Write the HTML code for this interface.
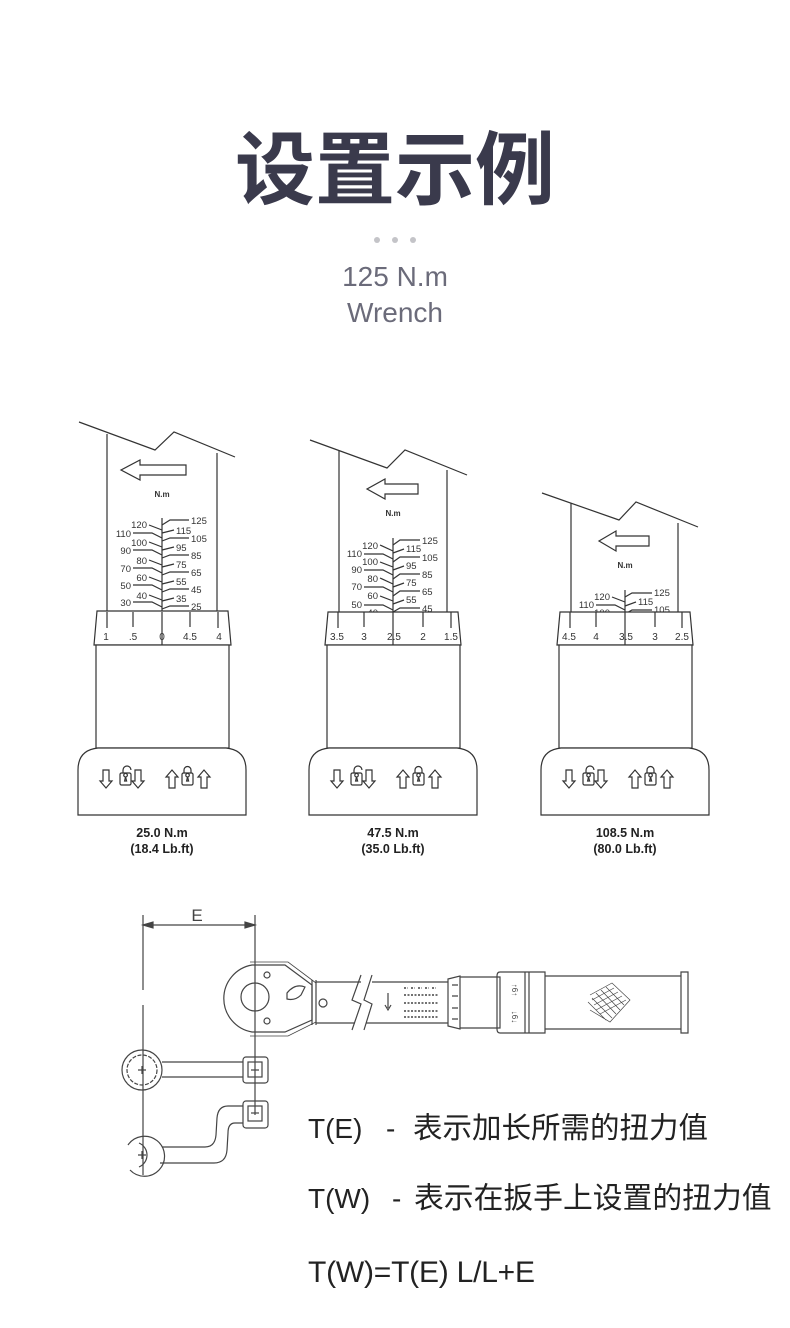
<!DOCTYPE html>
<html><head><meta charset="utf-8"><style>
html,body{margin:0;padding:0;background:#fff;width:790px;height:1328px;overflow:hidden}
svg{display:block}
</style></head><body>
<svg width="790" height="1328" viewBox="0 0 790 1328" xmlns="http://www.w3.org/2000/svg">
<defs>
<g id="iconsL" fill="none" stroke="#333" stroke-width="1.2">
<path d="M-3,-8 v11 h-3 l6,7 l6,-7 h-3 v-11 z" transform="translate(-44,0)"/>
<rect x="-30" y="-5" width="11" height="12" rx="1.5"/><path d="M-27,-5 v-3 a4,4 0 0 1 8,0"/><path d="M-24.5,-1 a1.8,1.8 0 1 1 0.1,0 l1,4 h-2 z"/>
<path d="M-3,-8 v11 h-3 l6,7 l6,-7 h-3 v-11 z" transform="translate(-12,0)"/>
<path d="M-3,10 v-11 h-3 l6,-7 l6,7 h-3 v11 z" transform="translate(22,0)"/>
<rect x="32" y="-5" width="11" height="12" rx="1.5"/><path d="M34,-5 v-3 a3.5,3.5 0 0 1 7,0 v3"/><path d="M37.5,-1 a1.8,1.8 0 1 1 0.1,0 l1,4 h-2 z"/>
<path d="M-3,10 v-11 h-3 l6,-7 l6,7 h-3 v11 z" transform="translate(54,0)"/>
</g>
</defs>

<text x="395" y="198" text-anchor="middle" font-family="'Liberation Sans','Noto Sans CJK SC',sans-serif" font-size="80" font-weight="bold" fill="#3a3a4c">设置示例</text>
<circle cx="377" cy="240" r="3" fill="#c4c4c8"/><circle cx="395" cy="240" r="3" fill="#c4c4c8"/><circle cx="413" cy="240" r="3" fill="#c4c4c8"/>
<text x="395" y="286" text-anchor="middle" font-family="'Liberation Sans',sans-serif" font-size="28" fill="#6b6b7a">125 N.m</text>
<text x="395" y="322" text-anchor="middle" font-family="'Liberation Sans',sans-serif" font-size="28" fill="#6b6b7a">Wrench</text>

<g fill="none" stroke="#333" stroke-width="1.2" font-family="'Liberation Sans',sans-serif">
<!-- Gauge 1 -->
<path d="M79,422 L155,450 L174,432 L235,457"/>
<path d="M107,434 V612 M217,453 V612"/>
<path d="M186,465 H140 V460 L121,470 L140,480 V475 H186 Z"/>
<text x="162" y="497" font-size="8" font-weight="bold" fill="#333" stroke="none" text-anchor="middle">N.m</text>
<path d="M162,518 V645"/>
<g fill="#333" stroke="none" font-size="9.5">
<text x="147" y="528" text-anchor="end">120</text><text x="131" y="537" text-anchor="end">110</text><text x="147" y="546" text-anchor="end">100</text><text x="131" y="554" text-anchor="end">90</text><text x="147" y="564" text-anchor="end">80</text><text x="131" y="572" text-anchor="end">70</text><text x="147" y="581" text-anchor="end">60</text><text x="131" y="589" text-anchor="end">50</text><text x="147" y="599" text-anchor="end">40</text><text x="131" y="606" text-anchor="end">30</text>
<text x="191" y="524">125</text><text x="176" y="534">115</text><text x="191" y="542">105</text><text x="176" y="551">95</text><text x="191" y="559">85</text><text x="176" y="568">75</text><text x="191" y="576">65</text><text x="176" y="585">55</text><text x="191" y="593">45</text><text x="176" y="602">35</text><text x="191" y="610">25</text>
</g>
<path d="M149,525 L162,530 M133,533 H152 L162,538 M149,542 L162,547 M133,550 H152 L162,555 M149,560 L162,565 M133,568 H152 L162,573 M149,577 L162,582 M133,585 H152 L162,590 M149,595 L162,600 M133,602 H152 L162,607"/>
<path d="M162,525 L170,520 H189 M162,533 L174,530 M162,541 L170,538 H189 M162,550 L174,547 M162,558 L170,555 H189 M162,567 L174,564 M162,575 L170,572 H189 M162,584 L174,581 M162,592 L170,589 H189 M162,601 L174,598 M162,609 L170,606 H189"/>
<path d="M97,611 H228 L231,645 H94 Z" fill="#fff"/>
<path d="M107,612 V628 M133,612 V627 M162,612 V645 M190,612 V627 M218,612 V628"/>
<g fill="#333" stroke="none" font-size="10" text-anchor="middle"><text x="106" y="640">1</text><text x="133" y="640">.5</text><text x="162" y="640">0</text><text x="190" y="640">4.5</text><text x="219" y="640">4</text></g>
<rect x="96" y="645" width="133" height="103" fill="#fff"/>
<path d="M78,815 V770 Q78,750 98,748 H226 Q246,750 246,770 V815 Z" fill="#fff"/>
<use href="#iconsL" x="150" y="778"/>
<text x="162" y="837" font-size="12.5" font-weight="bold" fill="#222" stroke="none" text-anchor="middle">25.0 N.m</text>
<text x="162" y="853" font-size="12.5" font-weight="bold" fill="#222" stroke="none" text-anchor="middle">(18.4 Lb.ft)</text>

<!-- Gauge 2 -->
<path d="M310,440 L387,468 L405,450 L467,475"/>
<path d="M339,451 V612 M447,470 V612"/>
<path d="M418,484 H385 V479 L367,489 L385,499 V494 H418 Z"/>
<text x="393" y="516" font-size="8" font-weight="bold" fill="#333" stroke="none" text-anchor="middle">N.m</text>
<path d="M393,538 V645"/>
<g fill="#333" stroke="none" font-size="9.5">
<text x="378" y="549" text-anchor="end">120</text><text x="362" y="557" text-anchor="end">110</text><text x="378" y="565" text-anchor="end">100</text><text x="362" y="573" text-anchor="end">90</text><text x="378" y="582" text-anchor="end">80</text><text x="362" y="590" text-anchor="end">70</text><text x="378" y="599" text-anchor="end">60</text><text x="362" y="608" text-anchor="end">50</text><text x="378" y="616" text-anchor="end">40</text>
<text x="422" y="544">125</text><text x="406" y="552">115</text><text x="422" y="561">105</text><text x="406" y="569">95</text><text x="422" y="578">85</text><text x="406" y="586">75</text><text x="422" y="595">65</text><text x="406" y="603">55</text><text x="422" y="612">45</text>
</g>
<path d="M380,545 L393,551 M364,554 H383 L393,559 M380,562 L393,567 M364,570 H383 L393,575 M380,578 L393,584 M364,587 H383 L393,592 M380,596 L393,601 M364,605 H383 L393,610"/>
<path d="M393,545 L400,540 H420 M393,553 L404,549 M393,562 L400,557 H420 M393,570 L404,566 M393,579 L400,574 H420 M393,587 L404,583 M393,596 L400,591 H420 M393,604 L404,600 M393,612 L400,608 H420"/>
<path d="M328,612 H458 L461,645 H325 Z" fill="#fff"/>
<path d="M338,612 V628 M364,612 V627 M393,612 V645 M423,612 V627 M451,612 V628"/>
<g fill="#333" stroke="none" font-size="10" text-anchor="middle"><text x="337" y="640">3.5</text><text x="364" y="640">3</text><text x="394" y="640">2.5</text><text x="423" y="640">2</text><text x="451" y="640">1.5</text></g>
<rect x="327" y="645" width="133" height="103" fill="#fff"/>
<path d="M309,815 V770 Q309,750 329,748 H457 Q477,750 477,770 V815 Z" fill="#fff"/>
<use href="#iconsL" x="381" y="778"/>
<text x="393" y="837" font-size="12.5" font-weight="bold" fill="#222" stroke="none" text-anchor="middle">47.5 N.m</text>
<text x="393" y="853" font-size="12.5" font-weight="bold" fill="#222" stroke="none" text-anchor="middle">(35.0 Lb.ft)</text>

<!-- Gauge 3 -->
<path d="M542,493 L619,520 L636,502 L698,527"/>
<path d="M571,503 V612 M678,523 V612"/>
<path d="M649,536 H616 V531 L599,541 L616,551 V546 H649 Z"/>
<text x="625" y="568" font-size="8" font-weight="bold" fill="#333" stroke="none" text-anchor="middle">N.m</text>
<path d="M625,590 V645"/>
<g fill="#333" stroke="none" font-size="9.5">
<text x="610" y="600" text-anchor="end">120</text><text x="594" y="608" text-anchor="end">110</text><text x="610" y="616" text-anchor="end">100</text>
<text x="654" y="596">125</text><text x="638" y="605">115</text><text x="654" y="613">105</text>
</g>
<path d="M612,597 L625,602 M596,605 H615 L625,610"/>
<path d="M625,597 L632,593 H652 M625,606 L636,602 M625,614 L632,610 H652"/>
<path d="M560,612 H690 L693,645 H557 Z" fill="#fff"/>
<path d="M570,612 V628 M596,612 V627 M625,612 V645 M655,612 V627 M682,612 V628"/>
<g fill="#333" stroke="none" font-size="10" text-anchor="middle"><text x="569" y="640">4.5</text><text x="596" y="640">4</text><text x="626" y="640">3.5</text><text x="655" y="640">3</text><text x="682" y="640">2.5</text></g>
<rect x="559" y="645" width="133" height="103" fill="#fff"/>
<path d="M541,815 V770 Q541,750 561,748 H689 Q709,750 709,770 V815 Z" fill="#fff"/>
<use href="#iconsL" x="613" y="778"/>
<text x="625" y="837" font-size="12.5" font-weight="bold" fill="#222" stroke="none" text-anchor="middle">108.5 N.m</text>
<text x="625" y="853" font-size="12.5" font-weight="bold" fill="#222" stroke="none" text-anchor="middle">(80.0 Lb.ft)</text>
</g>

<!-- Wrench diagram -->
<g fill="none" stroke="#444" stroke-width="1.2" font-family="'Liberation Sans',sans-serif">
<path d="M143,915 V990 M143,1005 V1175 M255,915 V1115"/>
<path d="M143,925 H255"/>
<path d="M143,925 l10,-3 v6 z M255,925 l-10,-3 v6 z" fill="#444"/>
<text x="197" y="921" font-size="17" fill="#444" stroke="none" text-anchor="middle">E</text>
<path d="M252,965 H285 L312,985 V1020 L285,1032 H252 A34,34 0 0 1 252,965 Z"/>
<path d="M250,962 H288 L316,983 M316,1022 L288,1036 H250" stroke-width="0.8"/>
<circle cx="255" cy="997" r="14"/>
<circle cx="267" cy="975" r="3"/><circle cx="267" cy="1021" r="3"/>
<path d="M287,993 q8,-10 18,-6 l-4,8 q-6,6 -14,4 z"/>
<path d="M312,980 V1025 M316,980 V1025"/>
<path d="M316,982 H361 M316,1023 H355 M372,982 H448 M366,1023 H448"/>
<path d="M361,975 L352,1000 L361,1004 L352,1030 M372,975 L364,1000 L372,1004 L364,1030"/>
<circle cx="323" cy="1003" r="4"/>
<path d="M388,993 V1008 M385,1005 L388,1010 L391,1005"/>
<path d="M404,988 h4 M411,988 h4 M418,988 h4 M425,988 h4 M432,988 h4 M404,995 h34 M404,1003 h34 M404,1011 h34 M404,1017 h34" stroke-width="1.5" stroke-dasharray="2 1.5"/>
<path d="M448,979 L460,976 V1029 L448,1026 Z"/>
<path d="M452,985 h6 M452,996 h6 M452,1008 h6 M452,1019 h6"/>
<path d="M460,977 H500 V1028 H460"/>
<path d="M500,972 Q497,972 497,976 V1029 Q497,1033 500,1033 H545 V972 Z"/>
<path d="M525,972 V1033 M529,972 V1033"/>
<text x="512" y="990" font-size="8" fill="#444" stroke="none" text-anchor="middle" transform="rotate(90 512 990)">↑6↑</text>
<text x="512" y="1017" font-size="8" fill="#444" stroke="none" text-anchor="middle" transform="rotate(90 512 1017)">↓6↓</text>
<path d="M545,976 H681 M545,1029 H681"/>
<path d="M681,972 H688 V1033 H681 Z"/>
<g stroke-width="0.7">
<path d="M590,995 L612,983 L630,1000 L610,1022 L590,1010 M592,1000 L614,988 M594,1005 L618,992 M596,1010 L622,996 M600,1014 L626,1000 M588,1002 L606,1020 M592,998 L612,1018 M596,993 L616,1014 M601,990 L620,1010 M606,987 L624,1005"/>
</g>
<circle cx="142" cy="1070" r="20"/>
<circle cx="142" cy="1070" r="15" stroke-dasharray="4 1.5"/>
<path d="M162,1062 H243 M162,1077 H243"/>
<rect x="243" y="1057" width="25" height="26" rx="3"/>
<rect x="248" y="1062" width="14" height="15"/>
<path d="M138,1070 h8 M142,1066 v8 M251,1070 h8"/>
<rect x="243" y="1101" width="25" height="27" rx="3"/>
<rect x="248" y="1106" width="14" height="15"/>
<path d="M251,1113 h8"/>
<path d="M243,1106 H228 Q218,1106 217,1118 L216,1135 Q215,1147 205,1147 H162"/>
<path d="M243,1123 H235 Q228,1123 228,1133 L227,1150 Q226,1163 214,1163 H160"/>
<path d="M128,1145 A20,20 0 1 1 130,1170"/>
<path d="M139,1143 A13,13 0 0 1 139,1167"/>
<path d="M138,1155 h8 M142,1151 v8"/>
</g>

<g font-family="'Liberation Sans','Noto Sans CJK SC',sans-serif" font-size="28" fill="#222">
<text x="308" y="1138">T(E)</text><text x="386" y="1138">-</text>
<text x="413" y="1138" font-size="29.5">表示加长所需的扭力值</text>
<text x="308" y="1208">T(W)</text><text x="392" y="1208">-</text>
<text x="414" y="1208" font-size="29.8">表示在扳手上设置的扭力值</text>
<text x="308" y="1282" font-size="30" textLength="227">T(W)=T(E) L/L+E</text>
</g>
</svg>
</body></html>
